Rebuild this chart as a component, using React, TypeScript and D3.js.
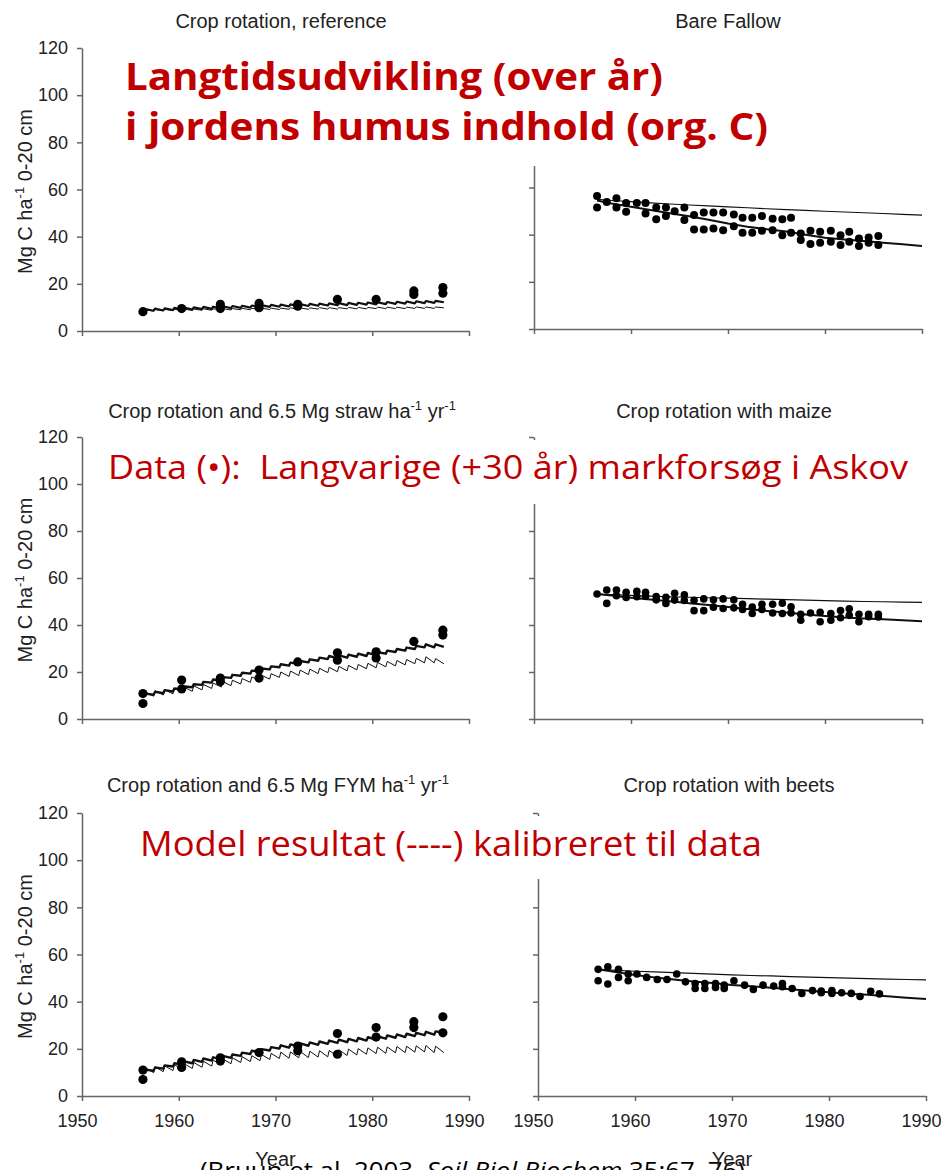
import React, { useEffect, useRef } from "react";
import * as d3 from "d3";

type Pt = [number, number];

const W = 942;
const H = 1170;

// ---- axes
const xTicks = [1950, 1960, 1970, 1980, 1990];
const yTicks = [0, 20, 40, 60, 80, 100, 120];

// ---- left column: yearly model inputs (trough before input, peak after input)
const inputYears = [
  1956, 1957, 1958, 1959, 1960, 1961, 1962, 1963, 1964, 1965, 1966, 1967, 1968, 1969, 1970, 1971,
  1972, 1973, 1974, 1975, 1976, 1977, 1978, 1979, 1980, 1981, 1982, 1983, 1984, 1985, 1986, 1987,
];

// Crop rotation, reference
const refCalTrough = [8.5, 8.6, 8.7, 8.9, 9.0, 9.1, 9.3, 9.4, 9.6, 9.7, 9.8, 9.9, 10.1, 10.2, 10.3, 10.4, 10.5, 10.6, 10.7, 10.8, 10.9, 11.0, 11.1, 11.2, 11.3, 11.4, 11.5, 11.6, 11.7, 11.8, 11.9, 12.2];
const refCalPeak = [9.3, 9.5, 9.6, 9.8, 9.9, 10.0, 10.2, 10.3, 10.5, 10.6, 10.7, 10.8, 11.0, 11.1, 11.2, 11.3, 11.4, 11.5, 11.6, 11.7, 11.8, 11.9, 12.0, 12.1, 12.2, 12.3, 12.4, 12.5, 12.6, 12.7, 12.8];
const refUncTrough = [8.5, 8.5, 8.6, 8.6, 8.7, 8.7, 8.8, 8.8, 8.9, 8.9, 9.0, 9.0, 9.1, 9.1, 9.1, 9.2, 9.2, 9.2, 9.3, 9.3, 9.3, 9.4, 9.4, 9.4, 9.5, 9.5, 9.5, 9.5, 9.6, 9.6, 9.6, 9.8];
const refUncPeak = [9.0, 9.1, 9.2, 9.2, 9.3, 9.3, 9.4, 9.4, 9.5, 9.5, 9.6, 9.6, 9.7, 9.7, 9.7, 9.8, 9.8, 9.8, 9.9, 9.9, 9.9, 10.0, 10.0, 10.0, 10.1, 10.1, 10.1, 10.1, 10.2, 10.2, 10.2];
const refDots: Pt[] = [
  [1956.3, 8.2], [1960.3, 9.5], [1964.3, 11.3], [1964.3, 9.5], [1968.3, 11.7], [1968.3, 9.9],
  [1972.3, 11.3], [1972.3, 10.5], [1976.4, 13.4], [1980.4, 13.4], [1984.3, 17.0], [1984.3, 15.5],
  [1987.3, 18.4], [1987.3, 16.0],
];

// Crop rotation and 6.5 Mg straw
const strawCalTrough = [10.0, 10.3, 11.0, 11.7, 12.5, 13.5, 14.5, 15.5, 16.5, 17.5, 18.4, 19.3, 20.2, 21.1, 22.0, 22.7, 23.4, 24.1, 24.8, 25.5, 25.8, 26.1, 26.5, 26.8, 27.1, 27.8, 28.5, 29.1, 29.8, 30.5, 30.5, 30.7];
const strawCalPeak = [10.8, 11.6, 12.3, 13.0, 13.8, 14.8, 15.8, 16.8, 17.8, 18.8, 19.7, 20.6, 21.5, 22.4, 23.3, 24.0, 24.7, 25.4, 26.1, 26.8, 27.1, 27.4, 27.8, 28.1, 28.4, 29.1, 29.8, 30.4, 31.1, 31.8, 31.8];
const strawUncTrough = [10.0, 9.7, 10.2, 10.7, 11.2, 11.8, 12.4, 13.0, 13.6, 14.2, 14.9, 15.6, 16.3, 17.0, 17.7, 18.1, 18.5, 18.9, 19.3, 19.7, 20.1, 20.5, 20.9, 21.4, 21.8, 22.2, 22.6, 23.0, 23.5, 23.9, 23.9, 23.5];
const strawUncPeak = [11.5, 12.0, 12.5, 13.0, 13.5, 14.1, 14.7, 15.3, 15.9, 16.5, 17.2, 17.9, 18.6, 19.3, 20.0, 20.4, 20.8, 21.2, 21.6, 22.0, 22.4, 22.8, 23.2, 23.7, 24.1, 24.5, 24.9, 25.3, 25.8, 26.5, 25.7];
const strawDots: Pt[] = [
  [1956.3, 10.8], [1956.3, 6.6], [1960.3, 16.6], [1960.3, 12.8], [1964.3, 17.4], [1964.3, 16.0],
  [1968.3, 20.8], [1968.3, 17.4], [1972.3, 24.3], [1976.4, 28.2], [1976.4, 25.0], [1980.4, 28.6],
  [1980.4, 26.0], [1984.3, 33.0], [1987.3, 37.8], [1987.3, 35.7],
];

// Crop rotation and 6.5 Mg FYM
const fymCalTrough = [10.3, 10.7, 11.6, 12.5, 13.3, 13.9, 14.5, 15.0, 15.6, 16.2, 17.0, 17.8, 18.5, 19.3, 20.1, 20.5, 20.9, 21.3, 21.7, 22.1, 22.5, 22.8, 23.2, 23.5, 23.9, 24.3, 24.7, 25.0, 25.4, 25.8, 26.0, 26.8];
const fymCalPeak = [11.2, 12.1, 13.0, 13.9, 14.7, 15.3, 15.9, 16.4, 17.0, 17.6, 18.4, 19.2, 19.9, 20.7, 21.5, 21.9, 22.3, 22.7, 23.1, 23.5, 23.9, 24.2, 24.6, 24.9, 25.3, 25.7, 26.1, 26.4, 26.8, 27.2, 27.4];
const fymUncTrough = [10.3, 9.9, 10.3, 10.8, 11.2, 11.7, 12.2, 12.7, 13.2, 13.7, 14.2, 14.6, 15.0, 15.5, 15.9, 16.0, 16.2, 16.3, 16.5, 16.6, 16.9, 17.2, 17.4, 17.7, 18.0, 18.1, 18.3, 18.4, 18.6, 18.7, 18.4, 18.4];
const fymUncPeak = [12.0, 12.4, 12.8, 13.3, 13.7, 14.2, 14.7, 15.2, 15.7, 16.2, 16.7, 17.1, 17.6, 18.1, 18.6, 18.7, 18.9, 19.0, 19.2, 19.3, 19.6, 19.9, 20.1, 20.4, 20.7, 20.8, 21.0, 21.1, 21.3, 21.4, 21.1];
const fymDots: Pt[] = [
  [1956.3, 11.0], [1956.3, 7.0], [1960.3, 14.5], [1960.3, 12.1], [1964.3, 16.2], [1964.3, 14.8],
  [1968.3, 18.4], [1972.3, 21.2], [1972.3, 19.2], [1976.4, 26.5], [1976.4, 17.7], [1980.4, 29.0],
  [1980.4, 25.0], [1984.3, 31.5], [1984.3, 29.0], [1987.3, 33.6], [1987.3, 26.8],
];

// ---- right column: model output years
const rightYears = [1956.5, 1958, 1960, 1962, 1964, 1966, 1968, 1970, 1972, 1974, 1976, 1978, 1980, 1982, 1984, 1986, 1988, 1990];

// Bare Fallow
const fallowUnc = [55.0, 54.5, 54.0, 53.5, 53.0, 52.6, 52.2, 51.8, 51.4, 51.0, 50.6, 50.3, 49.9, 49.6, 49.3, 49.0, 48.6, 48.3];
const fallowCal = [54.5, 53.2, 51.8, 50.5, 49.1, 47.8, 46.3, 44.7, 43.4, 42.3, 41.3, 40.0, 38.7, 38.0, 37.3, 36.6, 35.9, 35.2];
const fallowDots: Pt[] = [
  [1956.5, 56.4], [1956.5, 51.5], [1957.5, 53.9], [1958.5, 55.4], [1958.5, 51.5], [1959.5, 53.4],
  [1959.5, 49.7], [1960.6, 53.4], [1961.5, 53.4], [1961.5, 49.0], [1962.6, 51.5], [1962.6, 46.5],
  [1963.6, 51.5], [1963.6, 47.9], [1964.5, 49.9], [1965.5, 51.5], [1965.5, 46.2], [1966.5, 48.3],
  [1966.5, 42.2], [1967.5, 49.4], [1967.5, 42.2], [1968.5, 49.4], [1968.5, 42.6], [1969.5, 49.4],
  [1969.5, 41.9], [1970.6, 48.6], [1970.6, 43.6], [1971.5, 47.2], [1971.5, 40.8], [1972.5, 47.2],
  [1972.5, 40.8], [1973.5, 47.9], [1973.5, 41.7], [1974.6, 46.8], [1974.6, 41.9], [1975.6, 46.5],
  [1975.6, 39.8], [1976.5, 47.2], [1976.5, 40.8], [1977.5, 40.5], [1977.5, 37.7], [1978.5, 41.7],
  [1978.5, 36.0], [1979.5, 41.2], [1979.5, 36.6], [1980.6, 41.7], [1980.6, 37.0], [1981.6, 39.8],
  [1981.6, 35.6], [1982.5, 41.2], [1982.5, 37.0], [1983.5, 38.4], [1983.5, 35.2], [1984.5, 38.8],
  [1984.5, 36.6], [1985.5, 39.4], [1985.5, 35.6],
];

// Crop rotation with maize
const maizeUnc = [53.2, 52.9, 52.6, 52.3, 52.0, 51.8, 51.6, 51.4, 51.2, 51.0, 50.8, 50.6, 50.4, 50.2, 50.0, 49.9, 49.7, 49.6];
const maizeCal = [53.2, 52.5, 51.6, 50.8, 50.1, 49.3, 48.5, 47.7, 46.8, 46.0, 45.3, 44.5, 43.8, 43.2, 42.8, 42.4, 42.0, 41.6];
const maizeDots: Pt[] = [
  [1956.5, 53.2], [1957.5, 54.9], [1957.5, 49.2], [1958.5, 54.9], [1958.5, 52.5], [1959.5, 53.9],
  [1959.5, 51.7], [1960.6, 54.3], [1960.6, 52.0], [1961.5, 53.9], [1961.5, 52.2], [1962.6, 52.1],
  [1962.6, 50.7], [1963.6, 51.8], [1963.6, 49.2], [1964.5, 53.5], [1964.5, 50.6], [1965.5, 52.9],
  [1965.5, 50.4], [1966.5, 50.5], [1966.5, 46.1], [1967.5, 51.1], [1967.5, 46.1], [1968.5, 50.7],
  [1968.5, 47.6], [1969.5, 51.1], [1969.5, 47.0], [1970.6, 50.7], [1970.6, 47.3], [1971.5, 48.8],
  [1971.5, 46.6], [1972.5, 47.6], [1972.5, 44.9], [1973.5, 48.8], [1973.5, 46.6], [1974.6, 48.8],
  [1974.6, 45.1], [1975.6, 49.3], [1975.6, 44.9], [1976.5, 47.7], [1976.5, 45.1], [1977.5, 44.6],
  [1977.5, 42.0], [1978.5, 45.1], [1979.5, 45.4], [1979.5, 41.4], [1980.6, 44.9], [1980.6, 42.0],
  [1981.6, 46.2], [1981.6, 43.1], [1982.5, 46.9], [1982.5, 44.1], [1983.5, 44.6], [1983.5, 41.4],
  [1984.5, 44.6], [1984.5, 43.5], [1985.5, 44.6], [1985.5, 43.4],
];

// Crop rotation with beets
const beetsUnc = [53.7, 53.3, 52.9, 52.6, 52.3, 52.0, 51.7, 51.4, 51.1, 50.9, 50.6, 50.4, 50.2, 50.0, 49.8, 49.6, 49.4, 49.2];
const beetsCal = [53.5, 52.6, 51.3, 50.3, 49.4, 48.6, 47.9, 47.1, 46.5, 45.9, 45.3, 44.6, 44.0, 43.4, 42.9, 42.3, 41.7, 41.1];
const beetsDots: Pt[] = [
  [1956.2, 53.7], [1956.2, 48.9], [1957.2, 54.8], [1957.2, 47.5], [1958.3, 53.7], [1958.3, 50.3],
  [1959.3, 51.7], [1959.3, 48.9], [1960.2, 51.7], [1961.2, 50.3], [1962.3, 49.4], [1963.3, 49.4],
  [1964.3, 51.7], [1965.2, 48.4], [1966.2, 45.6], [1966.2, 47.7], [1967.2, 45.6], [1967.2, 47.7],
  [1968.3, 46.0], [1968.3, 47.7], [1969.2, 45.6], [1969.2, 47.0], [1970.2, 48.9], [1971.3, 47.0],
  [1972.2, 45.2], [1973.2, 47.0], [1974.3, 46.6], [1975.2, 47.7], [1975.2, 46.3], [1976.2, 45.6],
  [1977.2, 43.5], [1978.3, 44.7], [1979.2, 43.8], [1979.2, 44.5], [1980.3, 44.7], [1980.3, 43.5],
  [1981.3, 43.8], [1982.3, 43.5], [1983.2, 42.2], [1984.3, 44.4], [1985.2, 43.3],
];

const axisFont = "'Liberation Sans', Arial, sans-serif";
const slideFont = "'Open Sans', 'Noto Sans', sans-serif";
const red = "#C00000";

// trough just before each yearly input, peak just after it
const sawtooth = (troughs: number[], peaks: number[]): Pt[] => {
  const pts: Pt[] = [];
  inputYears.forEach((yr, i) => {
    pts.push([yr + 0.4, troughs[i]]);
    if (i < peaks.length) pts.push([yr + 0.55, peaks[i]]);
  });
  return pts;
};
const pairs = (years: number[], vals: number[]): Pt[] => years.map((yr, i) => [yr, vals[i]]);

type Seg = { text: string; sup?: boolean };
const sup = (text: string): Seg => ({ text, sup: true });

const panels = [
  {
    title: [{ text: "Crop rotation, reference" }], titleX: 281, titleY: 28,
    x0: 82, x1: 469, yTop: 48, yBottom: 331, left: true, bottom: false, r: 4.6,
    lines: [
      { pts: sawtooth(refUncTrough, refUncPeak), w: 1 },
      { pts: sawtooth(refCalTrough, refCalPeak), w: 2.2 },
    ],
    dots: refDots,
  },
  {
    title: [{ text: "Bare Fallow" }], titleX: 728, titleY: 28,
    x0: 534, x1: 922, yTop: 46, yBottom: 329, left: false, bottom: false, r: 4,
    lines: [
      { pts: pairs(rightYears, fallowUnc), w: 1.1 },
      { pts: pairs(rightYears, fallowCal), w: 2 },
    ],
    dots: fallowDots,
  },
  {
    title: [{ text: "Crop rotation and 6.5 Mg straw ha" }, sup("-1"), { text: " yr" }, sup("-1")], titleX: 282, titleY: 418,
    x0: 82, x1: 469, yTop: 437, yBottom: 719, left: true, bottom: false, r: 4.6,
    lines: [
      { pts: sawtooth(strawUncTrough, strawUncPeak), w: 1 },
      { pts: sawtooth(strawCalTrough, strawCalPeak), w: 2.4 },
    ],
    dots: strawDots,
  },
  {
    title: [{ text: "Crop rotation with maize" }], titleX: 724, titleY: 418,
    x0: 534, x1: 922, yTop: 437, yBottom: 719, left: false, bottom: false, r: 3.8,
    lines: [
      { pts: pairs(rightYears, maizeUnc), w: 1.2 },
      { pts: pairs(rightYears, maizeCal), w: 2 },
    ],
    dots: maizeDots,
  },
  {
    title: [{ text: "Crop rotation and 6.5 Mg FYM ha" }, sup("-1"), { text: " yr" }, sup("-1")], titleX: 278, titleY: 792,
    x0: 82, x1: 469, yTop: 813, yBottom: 1096, left: true, bottom: true, r: 4.6,
    lines: [
      { pts: sawtooth(fymUncTrough, fymUncPeak), w: 1 },
      { pts: sawtooth(fymCalTrough, fymCalPeak), w: 2.4 },
    ],
    dots: fymDots,
  },
  {
    title: [{ text: "Crop rotation with beets" }], titleX: 729, titleY: 792,
    x0: 538, x1: 926, yTop: 813, yBottom: 1096, left: false, bottom: true, r: 3.8,
    lines: [
      { pts: pairs(rightYears, beetsUnc), w: 1.2 },
      { pts: pairs(rightYears, beetsCal), w: 2 },
    ],
    dots: beetsDots,
  },
];

const addSegments = (text: any, segs: Seg[], supSize: number, shift: number) => {
  let raised = false;
  segs.forEach((s) => {
    const ts = text.append("tspan").text(s.text);
    if (s.sup && !raised) {
      ts.attr("dy", -shift).attr("font-size", supSize);
      raised = true;
    } else if (!s.sup && raised) {
      ts.attr("dy", shift);
      raised = false;
    } else if (s.sup) {
      ts.attr("font-size", supSize);
    }
  });
};

const App = () => {
  const svgRef = useRef<SVGSVGElement>(null);

  useEffect(() => {
    const svg = d3.select(svgRef.current);
    svg.selectAll("*").remove();
    svg.append("rect").attr("width", W).attr("height", H).attr("fill", "#fff");

    panels.forEach((p) => {
      const x = d3.scaleLinear().domain([1950, 1990]).range([p.x0, p.x1]);
      const y = d3.scaleLinear().domain([0, 120]).range([p.yBottom, p.yTop]);
      const g = svg.append("g");

      const yAxis = g
        .append("g")
        .attr("transform", `translate(${p.x0},0)`)
        .call(
          d3.axisLeft(y).tickValues(yTicks).tickSize(5).tickSizeOuter(0).tickPadding(9)
            .tickFormat((d: any) => (p.left ? String(d) : ""))
        );
      const xAxis = g
        .append("g")
        .attr("transform", `translate(0,${p.yBottom})`)
        .call(
          d3.axisBottom(x).tickValues(xTicks).tickSize(5).tickSizeOuter(0).tickPadding(13)
            .tickFormat((d: any) => (p.bottom ? String(d) : ""))
        );
      [yAxis, xAxis].forEach((a) => {
        a.attr("font-family", axisFont).attr("font-size", 18);
        a.select(".domain").attr("stroke", "#666").attr("stroke-width", 1.5);
        a.selectAll(".tick line").attr("stroke", "#666").attr("stroke-width", 1.5);
        a.selectAll(".tick text").attr("fill", "#222");
      });
      xAxis.selectAll(".tick text").attr("dx", -5);

      const line = d3.line<Pt>().x((d) => x(d[0])).y((d) => y(d[1]));
      p.lines.forEach((l) => {
        g.append("path")
          .datum(l.pts)
          .attr("fill", "none")
          .attr("stroke", "#111")
          .attr("stroke-width", l.w)
          .attr("stroke-linejoin", "round")
          .attr("d", line);
      });

      g.selectAll("circle.dot")
        .data(p.dots)
        .join("circle")
        .attr("class", "dot")
        .attr("cx", (d) => x(d[0]))
        .attr("cy", (d) => y(d[1]))
        .attr("r", p.r)
        .attr("fill", "#000");

      const title = svg
        .append("text")
        .attr("x", p.titleX)
        .attr("y", p.titleY)
        .attr("text-anchor", "middle")
        .attr("font-family", axisFont)
        .attr("font-size", 20)
        .attr("fill", "#222");
      addSegments(title, p.title, 13, 8);

      if (p.left) {
        const cy = (p.yTop + p.yBottom) / 2 + 2;
        const lab = svg
          .append("text")
          .attr("transform", `translate(32,${cy}) rotate(-90)`)
          .attr("text-anchor", "middle")
          .attr("font-family", axisFont)
          .attr("font-size", 20)
          .attr("fill", "#222");
        addSegments(lab, [{ text: "Mg C ha" }, sup("-1"), { text: " 0-20 cm" }], 13, 8);
      }
    });

    // citation, mostly cut off by the bottom edge (as on the slide)
    const cite = svg
      .append("text")
      .attr("x", 200)
      .attr("y", 1179)
      .attr("font-family", slideFont)
      .attr("font-size", 24)
      .attr("fill", "#000")
      .attr("textLength", 545)
      .attr("lengthAdjust", "spacingAndGlyphs");
    cite.append("tspan").text("(Bruun et al. 2003, ");
    cite.append("tspan").attr("font-style", "italic").text("Soil Biol Biochem");
    cite.append("tspan").text(" 35:67–76)");

    // "Year" axis titles
    [(82 + 469) / 2, (538 + 926) / 2].forEach((cx) => {
      svg
        .append("text")
        .attr("x", cx)
        .attr("y", 1166)
        .attr("text-anchor", "middle")
        .attr("font-family", axisFont)
        .attr("font-size", 20)
        .attr("fill", "#222")
        .text("Year");
    });

    // slide annotations on white boxes
    const boxes = [
      { x: 95, y: 40, w: 840, h: 126 },
      { x: 95, y: 440, w: 840, h: 64 },
      { x: 95, y: 816, w: 840, h: 63 },
    ];
    boxes.forEach((b) => {
      svg.append("rect").attr("x", b.x).attr("y", b.y).attr("width", b.w).attr("height", b.h).attr("fill", "#fff");
    });

    const notes = [
      { text: "Langtidsudvikling (over år)", x: 125, y: 90, size: 38, bold: true, len: 538 },
      { text: "i jordens humus indhold (org. C)", x: 125, y: 140, size: 38, bold: true, len: 643 },
      { text: "Data (•):  Langvarige (+30 år) markforsøg i Askov", x: 108, y: 479, size: 33, bold: false, len: 800 },
      { text: "Model resultat (----) kalibreret til data", x: 140, y: 856, size: 34, bold: false, len: 622 },
    ];
    notes.forEach((n) => {
      svg
        .append("text")
        .attr("x", n.x)
        .attr("y", n.y)
        .attr("font-family", slideFont)
        .attr("font-size", n.size)
        .attr("font-weight", n.bold ? 700 : 400)
        .attr("fill", red)
        .attr("textLength", n.len)
        .attr("lengthAdjust", "spacingAndGlyphs")
        .style("white-space", "pre")
        .text(n.text);
    });
  }, []);

  return (
    <svg
      ref={svgRef}
      width={W}
      height={H}
      style={{ position: "absolute", left: 0, top: 0, display: "block" }}
    />
  );
};

export default App;
